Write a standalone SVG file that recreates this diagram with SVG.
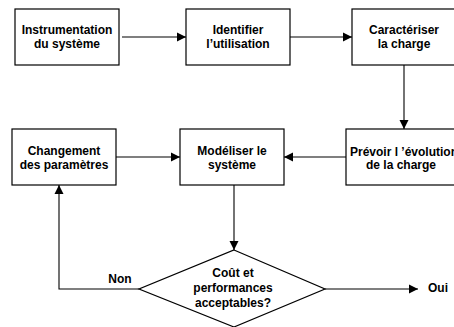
<svg xmlns="http://www.w3.org/2000/svg" width="454" height="327" viewBox="0 0 454 327">
  <style>
    .box { fill: #fff; stroke: #000; stroke-width: 1.2; }
    .edge { fill: none; stroke: #000; stroke-width: 1.1; }
    .lbl { font-family: "Liberation Sans", Arial, sans-serif; font-size: 12px; font-weight: bold; fill: #000; text-anchor: middle; }
    .tag { font-family: "Liberation Sans", Arial, sans-serif; font-size: 12px; font-weight: bold; fill: #000; }
  </style>
  <defs>
    <marker id="arrow" markerWidth="10" markerHeight="10" refX="9" refY="5" orient="auto" markerUnits="userSpaceOnUse">
      <path d="M0,0.5 L9,5 L0,9.5 Z" fill="#000"/>
    </marker>
  </defs>
  <rect width="454" height="327" fill="#fff"/>

  <g id="connectors">
    <line class="edge" x1="122" y1="37" x2="186" y2="37" marker-end="url(#arrow)"/>
    <line class="edge" x1="290" y1="37" x2="352" y2="37" marker-end="url(#arrow)"/>
    <line class="edge" x1="404" y1="64" x2="404" y2="129" marker-end="url(#arrow)"/>
    <line class="edge" x1="346" y1="157" x2="284" y2="157" marker-end="url(#arrow)"/>
    <line class="edge" x1="116" y1="157" x2="180" y2="157" marker-end="url(#arrow)"/>
    <line class="edge" x1="234" y1="185" x2="234" y2="250" marker-end="url(#arrow)"/>
    <polyline class="edge" points="139,289 59,289 59,185" marker-end="url(#arrow)"/>
    <line class="edge" x1="325" y1="289" x2="418" y2="289" marker-end="url(#arrow)"/>
    <text class="lbl" x="120" y="283">Non</text>
    <text class="tag" x="428" y="292">Oui</text>
  </g>

  <g id="instrumentation">
    <rect class="box" x="15" y="9" width="104" height="56"/>
    <text class="lbl" x="67" y="34">Instrumentation</text>
    <text class="lbl" x="67" y="48">du système</text>
  </g>

  <g id="identifier">
    <rect class="box" x="186" y="9" width="104" height="56"/>
    <text class="lbl" x="238" y="34">Identifier</text>
    <text class="lbl" x="238" y="48">l’utilisation</text>
  </g>

  <g id="caracteriser">
    <rect class="box" x="352" y="9" width="106" height="56"/>
    <text class="lbl" x="404" y="34">Caractériser</text>
    <text class="lbl" x="404" y="48">la charge</text>
  </g>

  <g id="prevoir">
    <rect class="box" x="346" y="129" width="112" height="56"/>
    <text class="lbl" x="404" y="156">Prévoir l ’évolution</text>
    <text class="lbl" x="401" y="169">de la charge</text>
  </g>

  <g id="modeliser">
    <rect class="box" x="180" y="129" width="104" height="56"/>
    <text class="lbl" x="232" y="155">Modéliser le</text>
    <text class="lbl" x="232" y="169">système</text>
  </g>

  <g id="changement">
    <rect class="box" x="12" y="129" width="104" height="56"/>
    <text class="lbl" x="64" y="155">Changement</text>
    <text class="lbl" x="64" y="169">des paramètres</text>
  </g>

  <g id="decision">
    <polygon class="box" points="234,250 325,289 234,327 139,289"/>
    <text class="lbl" x="233" y="277">Coût et</text>
    <text class="lbl" x="233" y="292">performances</text>
    <text class="lbl" x="233" y="307">acceptables?</text>
  </g>
</svg>
